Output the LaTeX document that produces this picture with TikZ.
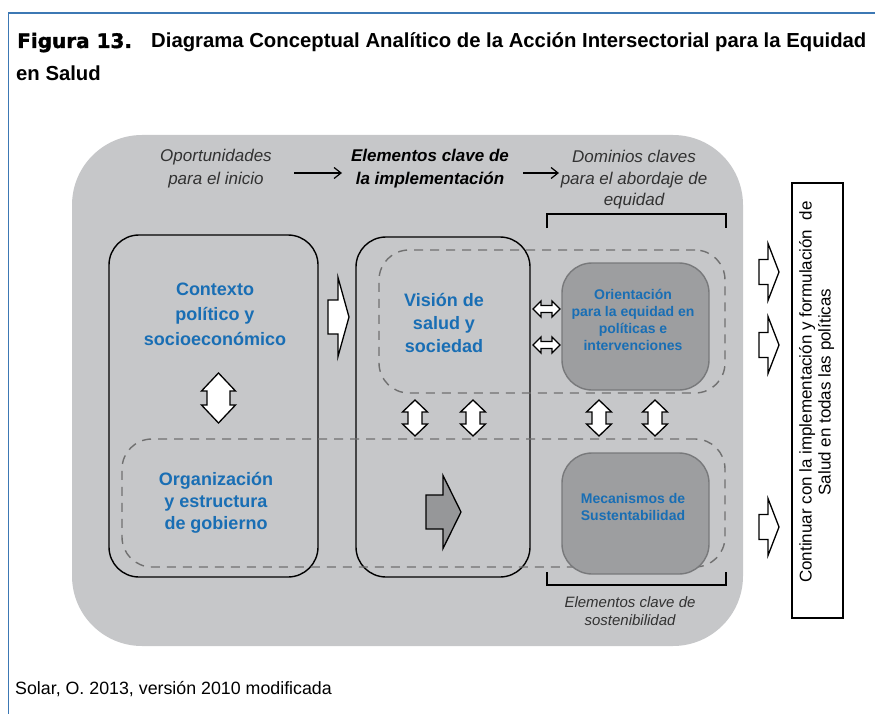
\documentclass[tikz,border=0pt]{standalone}
\usepackage{fontspec}
\setmainfont{Liberation Sans}
\newfontfamily\figfont{DejaVu Sans}[BoldFeatures={FakeBold=1.6}]
\usetikzlibrary{arrows.meta}
\definecolor{frameblue}{RGB}{60,120,180}
\definecolor{bggrey}{RGB}{198,199,201}
\definecolor{darkbox}{RGB}{157,158,160}
\definecolor{darkboxline}{RGB}{120,121,123}
\definecolor{dashgrey}{RGB}{112,112,112}
\definecolor{labelblue}{RGB}{25,110,180}
\definecolor{arrowgrey}{RGB}{150,151,153}
\definecolor{italgrey}{RGB}{50,50,50}
% right-pointing block arrow: style, x0, x1, x2, yc, half shaft, half head
\newcommand{\rblockarrow}[7]{%
  \draw[#1] (#2,#5-#6) -- (#3,#5-#6) -- (#3,#5-#7) -- (#4,#5) -- (#3,#5+#7) -- (#3,#5+#6) -- (#2,#5+#6) -- cycle;}
% horizontal double arrow: style, xc, yc, half length, head length, half shaft, half head
\newcommand{\hdblarrow}[7]{%
  \draw[#1] (#2-#4,#3) -- (#2-#4+#5,#3-#7) -- (#2-#4+#5,#3-#6) -- (#2+#4-#5,#3-#6) -- (#2+#4-#5,#3-#7) -- (#2+#4,#3)
   -- (#2+#4-#5,#3+#7) -- (#2+#4-#5,#3+#6) -- (#2-#4+#5,#3+#6) -- (#2-#4+#5,#3+#7) -- cycle;}
% vertical double arrow
\newcommand{\vdblarrow}[7]{%
  \draw[#1] (#2,#3-#4) -- (#2+#7,#3-#4+#5) -- (#2+#6,#3-#4+#5) -- (#2+#6,#3+#4-#5) -- (#2+#7,#3+#4-#5) -- (#2,#3+#4)
   -- (#2-#7,#3+#4-#5) -- (#2-#6,#3+#4-#5) -- (#2-#6,#3-#4+#5) -- (#2-#7,#3-#4+#5) -- cycle;}
\tikzset{
  blackbox/.style={draw=black, line width=1.4pt, rounded corners=30pt, inner sep=0pt},
  dashbox/.style={draw=dashgrey, line width=1.4pt, dash pattern=on 9pt off 7pt, rounded corners=30pt, inner sep=0pt},
  darkboxst/.style={draw=darkboxline, fill=darkbox, line width=1.4pt, rounded corners=30pt, inner sep=0pt},
  bluelabel/.style={text=labelblue, align=center, inner sep=0pt},
  itlabel/.style={text=italgrey, align=center, inner sep=0pt, font=\itshape\fontsize{17}{23}\selectfont},
  whitearrow/.style={draw=black, fill=white, line width=1.3pt, line join=miter},
  greyarrow/.style={draw=black, fill=arrowgrey, line width=1.3pt, line join=miter},
  toparrow/.style={draw=black, line width=1.2pt, -{Straight Barb[length=7pt,width=11pt]}},
  bracket/.style={draw=black, line width=1.5pt},
}
\begin{document}
\begin{tikzpicture}[x=1pt,y=-1pt]
\useasboundingbox (0,0) rectangle (875,714);
% frame
\draw[frameblue, line width=1.5pt] (8.5,714) -- (8.5,13) -- (875,13);
% title
\node[anchor=base west, inner sep=0pt, font=\figfont\bfseries\fontsize{20}{24}\selectfont] (fig) at (17,48) {Figura 13.};
\node[anchor=base west, inner sep=0pt, font=\bfseries\fontsize{20.3}{24}\selectfont] (ttl) at (151,48) {Diagrama Conceptual Analítico de la Acción Intersectorial para la Equidad};
\node[anchor=base west, inner sep=0pt, font=\bfseries\fontsize{20.3}{24}\selectfont] (ttl2) at (16,81) {en Salud};
% background
\node[fill=bggrey, rounded corners=70pt, inner sep=0pt, minimum width=671pt, minimum height=511pt] (bg) at (407.5,390.5) {};
% top labels
\node[itlabel] (opp) at (216,169) {Oportunidades\\para el inicio};
\node[itlabel, font=\bfseries\itshape\fontsize{17}{23}\selectfont, text=black] (elem) at (430,169) {Elementos clave de\\la implementación};
\node[itlabel, font=\itshape\fontsize{17}{21.5}\selectfont] (dom) at (634,180) {Dominios claves\\para el abordaje de\\equidad};
\coordinate (a1s) at (294,173); \coordinate (a1e) at (342,173);
\coordinate (a2s) at (523,173); \coordinate (a2e) at (559,173);
\draw[toparrow] (a1s) -- (a1e);
\draw[toparrow] (a2s) -- (a2e);
% brackets
\draw[bracket] (547,228) -- (547,214) -- (726,214) -- (726,228);
\draw[bracket] (547,572) -- (547,585) -- (726,585) -- (726,572);
\node[itlabel, font=\itshape\fontsize{15}{18}\selectfont] (sost) at (630,611) {Elementos clave de\\sostenibilidad};
% main boxes
\node[blackbox, minimum width=209pt, minimum height=342pt] (ctxbox) at (213.5,406) {};
\node[blackbox, minimum width=174pt, minimum height=340pt] (midbox) at (443,407) {};
\node[dashbox, minimum width=346pt, minimum height=143pt] (topdash) at (552,321.5) {};
\node[dashbox, minimum width=603pt, minimum height=128pt] (botdash) at (423.5,503) {};
\node[darkboxst, minimum width=147pt, minimum height=127pt] (orbox) at (635.5,326.5) {};
\node[darkboxst, minimum width=147pt, minimum height=121pt] (mecbox) at (635.5,513.5) {};
% labels
\node[bluelabel, font=\bfseries\fontsize{18}{25}\selectfont] (ctx) at (215,314) {Contexto\\político y\\socioeconómico};
\node[bluelabel, font=\bfseries\fontsize{18}{23}\selectfont] (vis) at (444,323) {Visión de\\salud y\\sociedad};
\node[bluelabel, font=\bfseries\fontsize{18}{22}\selectfont] (org) at (216,503) {Organización\\y estructura\\de gobierno};
\node[bluelabel, font=\bfseries\fontsize{14}{17}\selectfont] (ori) at (633,320) {Orientación\\para la equidad en\\políticas e\\intervenciones};
\node[bluelabel, font=\bfseries\fontsize{14}{17}\selectfont] (mec) at (633,507) {Mecanismos de\\Sustentabilidad};
% block arrows
\rblockarrow{whitearrow}{328}{338}{349}{317}{17}{39.5}
\rblockarrow{greyarrow}{426}{443}{461}{512}{17}{36.5}
\rblockarrow{whitearrow}{759}{768}{779}{272}{12.5}{28.5}
\rblockarrow{whitearrow}{759}{768}{779}{345}{12.5}{28.5}
\rblockarrow{whitearrow}{759}{768}{779}{527}{12.5}{28.5}
\vdblarrow{whitearrow}{218.5}{398}{25}{18}{11.5}{17}
\vdblarrow{whitearrow}{415}{418}{18}{12}{7}{12.5}
\vdblarrow{whitearrow}{473}{418}{18}{12}{7}{12.5}
\vdblarrow{whitearrow}{599}{418}{18}{12}{7}{12.5}
\vdblarrow{whitearrow}{655}{418}{18}{12}{7}{12.5}
\hdblarrow{whitearrow}{546.5}{309}{13.5}{8}{3.5}{8}
\hdblarrow{whitearrow}{546.5}{345}{13.5}{8}{3.5}{8}
% right box
\node[draw=black, fill=white, line width=1.8pt, inner sep=0pt, minimum width=51pt, minimum height=435pt] (contbox) at (817.5,400.5) {};
\node[rotate=90, align=center, inner sep=0pt, font=\fontsize{17}{19}\selectfont] (cont) at (816.5,392) {Continuar con la implementación y formulación\ \ de\\Salud en todas las políticas};
% source
\node[anchor=base west, inner sep=0pt, font=\fontsize{17.8}{20}\selectfont] (src) at (15,694) {Solar, O. 2013, versión 2010 modificada};
\end{tikzpicture}
\end{document}
